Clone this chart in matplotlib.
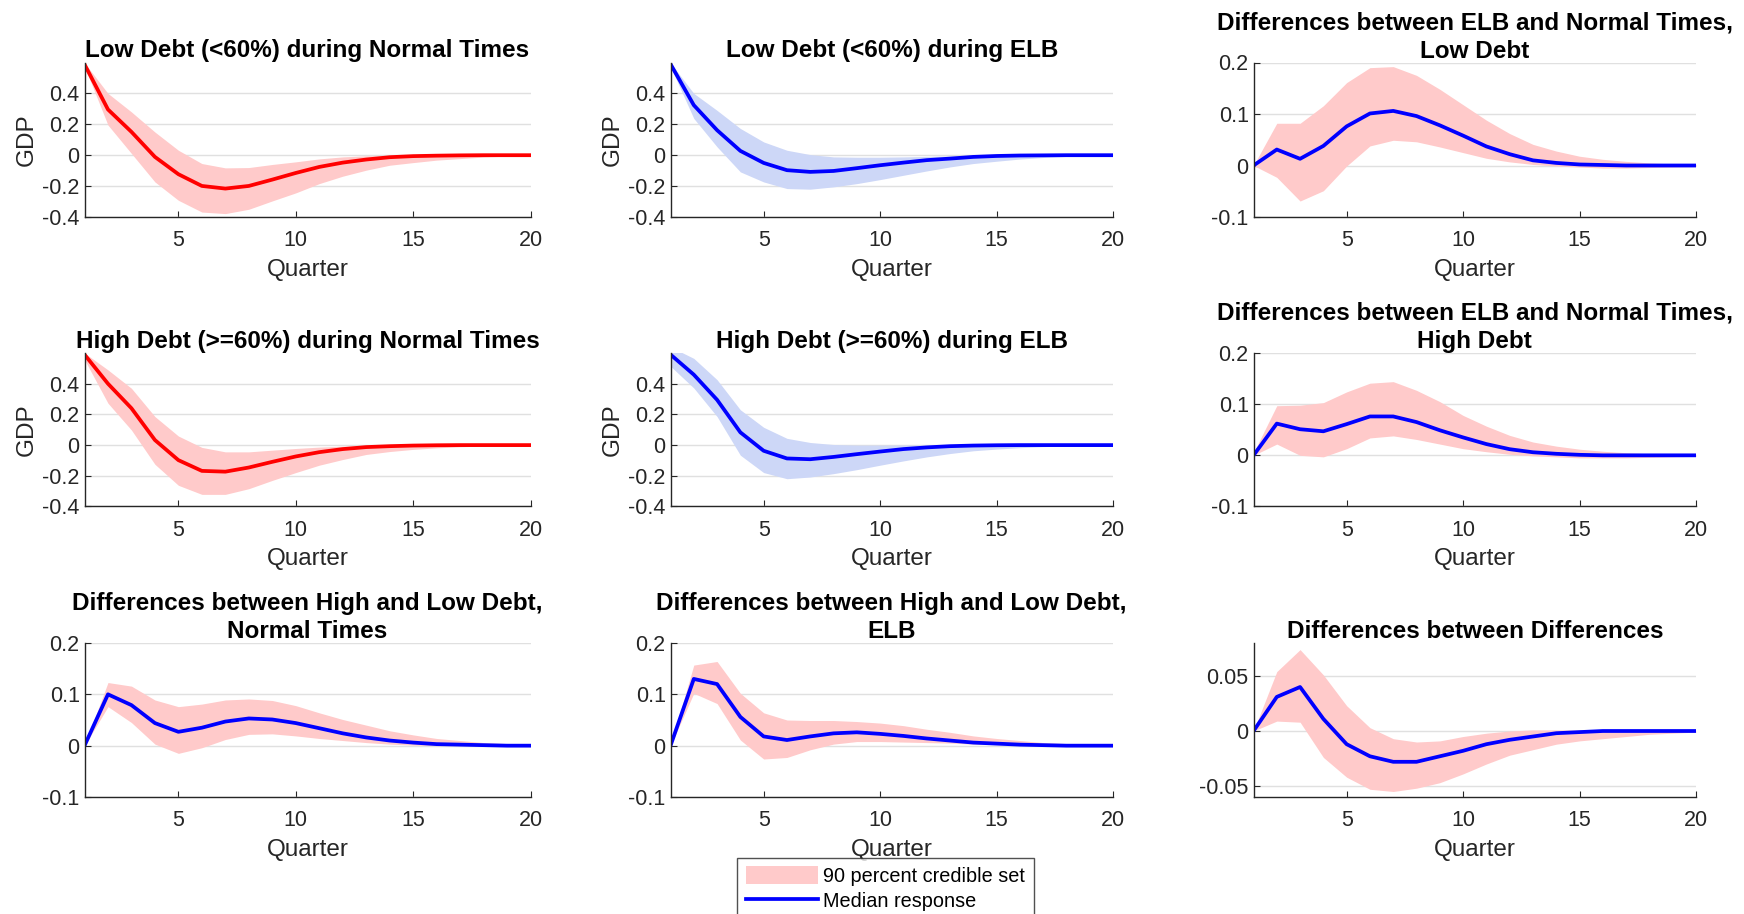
import matplotlib
matplotlib.use("Agg")
import matplotlib.pyplot as plt
from matplotlib.patches import Patch
from matplotlib.lines import Line2D

plt.rcParams['font.family'] = ['Liberation Sans', 'DejaVu Sans']

quarters = list(range(1, 21))

# ---- Panel data (median, upper 90%, lower 90%) ----
low_normal_med = [0.588, 0.296, 0.151, -0.011, -0.123, -0.199, -0.216, -0.199, -0.158, -0.115, -0.076, -0.048, -0.028, -0.013, -0.006, -0.003, -0.001, 0, 0, 0]
low_normal_up = [0.598, 0.40, 0.28, 0.15, 0.032, -0.054, -0.082, -0.08, -0.06, -0.043, -0.024, -0.011, -0.004, -0.002, 0.0, 0, 0, 0, 0, 0]
low_normal_lo = [0.575, 0.195, 0.011, -0.173, -0.292, -0.368, -0.378, -0.35, -0.296, -0.244, -0.184, -0.136, -0.097, -0.065, -0.048, -0.032, -0.022, -0.012, -0.006, -0.003]

low_elb_med = [0.59, 0.324, 0.162, 0.028, -0.05, -0.097, -0.108, -0.102, -0.084, -0.065, -0.048, -0.032, -0.022, -0.011, -0.005, -0.002, -0.001, 0, 0, 0]
low_elb_up = [0.598, 0.40, 0.29, 0.173, 0.086, 0.032, 0.004, -0.011, -0.013, -0.013, -0.011, -0.008, -0.005, -0.003, -0.001, 0, 0, 0, 0, 0]
low_elb_lo = [0.573, 0.238, 0.054, -0.108, -0.173, -0.216, -0.22, -0.205, -0.184, -0.158, -0.13, -0.102, -0.076, -0.054, -0.039, -0.025, -0.015, -0.008, -0.004, -0.002]

diff_low_med = [0, 0.031, 0.013, 0.038, 0.076, 0.101, 0.106, 0.096, 0.078, 0.058, 0.037, 0.022, 0.010, 0.005, 0.002, 0.001, 0, 0, 0, 0]
diff_low_up = [0, 0.082, 0.082, 0.116, 0.161, 0.19, 0.192, 0.175, 0.148, 0.118, 0.088, 0.062, 0.041, 0.028, 0.018, 0.012, 0.008, 0.005, 0.003, 0.002]
diff_low_lo = [0, -0.023, -0.069, -0.049, -0.001, 0.038, 0.049, 0.046, 0.036, 0.025, 0.014, 0.007, 0.002, -0.001, -0.003, -0.005, -0.005, -0.004, -0.003, -0.002]

high_normal_med = [0.59, 0.40, 0.24, 0.033, -0.098, -0.168, -0.173, -0.146, -0.109, -0.074, -0.046, -0.026, -0.013, -0.007, -0.003, -0.001, 0, 0, 0, 0]
high_normal_up = [0.60, 0.49, 0.37, 0.186, 0.059, -0.015, -0.044, -0.044, -0.033, -0.022, -0.013, -0.007, -0.003, -0.001, 0, 0, 0, 0, 0, 0]
high_normal_lo = [0.557, 0.273, 0.098, -0.125, -0.262, -0.321, -0.321, -0.284, -0.23, -0.179, -0.131, -0.094, -0.061, -0.042, -0.028, -0.018, -0.011, -0.006, -0.003, -0.001]

high_elb_med = [0.59, 0.459, 0.295, 0.083, -0.037, -0.087, -0.092, -0.077, -0.059, -0.042, -0.026, -0.015, -0.007, -0.003, -0.001, 0, 0, 0, 0, 0]
high_elb_up = [0.64, 0.565, 0.426, 0.23, 0.116, 0.044, 0.017, 0.004, 0.0, 0.0, 0, 0, 0, 0, 0, 0, 0, 0, 0, 0]
high_elb_lo = [0.514, 0.372, 0.186, -0.066, -0.179, -0.219, -0.208, -0.186, -0.16, -0.131, -0.103, -0.077, -0.055, -0.037, -0.026, -0.017, -0.01, -0.006, -0.003, -0.001]

diff_high_med = [0, 0.062, 0.051, 0.047, 0.061, 0.076, 0.076, 0.065, 0.049, 0.035, 0.022, 0.012, 0.006, 0.003, 0.001, 0, 0, 0, 0, 0]
diff_high_up = [0.005, 0.097, 0.098, 0.103, 0.124, 0.141, 0.144, 0.127, 0.105, 0.078, 0.057, 0.039, 0.026, 0.018, 0.012, 0.008, 0.005, 0.003, 0.002, 0.001]
diff_high_lo = [0, 0.022, 0, -0.003, 0.013, 0.034, 0.038, 0.031, 0.022, 0.013, 0.007, 0.002, -0.001, -0.003, -0.005, -0.005, -0.005, -0.004, -0.003, -0.002]

diff_normal_med = [0, 0.10, 0.079, 0.044, 0.027, 0.035, 0.047, 0.053, 0.051, 0.044, 0.034, 0.024, 0.016, 0.010, 0.006, 0.003, 0.002, 0.001, 0, 0]
diff_normal_up = [0, 0.123, 0.116, 0.089, 0.076, 0.081, 0.089, 0.091, 0.088, 0.078, 0.064, 0.051, 0.04, 0.029, 0.021, 0.014, 0.01, 0.006, 0.004, 0.002]
diff_normal_lo = [0, 0.076, 0.045, 0.003, -0.015, -0.004, 0.012, 0.022, 0.023, 0.019, 0.014, 0.01, 0.006, 0.003, 0.001, 0, 0, 0, 0, 0]

diff_elb_med = [0, 0.13, 0.12, 0.056, 0.018, 0.011, 0.018, 0.024, 0.026, 0.023, 0.019, 0.014, 0.01, 0.006, 0.004, 0.002, 0.001, 0, 0, 0]
diff_elb_up = [0, 0.157, 0.164, 0.102, 0.064, 0.05, 0.049, 0.049, 0.047, 0.044, 0.039, 0.032, 0.026, 0.019, 0.014, 0.01, 0.006, 0.004, 0.002, 0.001]
diff_elb_lo = [0, 0.102, 0.082, 0.011, -0.026, -0.023, -0.008, 0.003, 0.008, 0.008, 0.007, 0.006, 0.005, 0.003, 0.002, 0.001, 0, 0, 0, 0]

diff_diff_med = [0, 0.031, 0.040, 0.011, -0.012, -0.023, -0.028, -0.028, -0.023, -0.018, -0.012, -0.008, -0.005, -0.002, -0.001, 0, 0, 0, 0, 0]
diff_diff_up = [0, 0.054, 0.074, 0.051, 0.023, 0.003, -0.007, -0.010, -0.009, -0.005, -0.002, 0, 0.001, 0.001, 0.001, 0.001, 0, 0, 0, 0]
diff_diff_lo = [0, 0.009, 0.008, -0.024, -0.042, -0.053, -0.055, -0.052, -0.047, -0.039, -0.03, -0.022, -0.017, -0.012, -0.009, -0.007, -0.005, -0.003, -0.002, -0.001]

titles = [
    "Low Debt (<60%) during Normal Times",
    "Low Debt (<60%) during ELB",
    "Differences between ELB and Normal Times,\nLow Debt",
    "High Debt (>=60%) during Normal Times",
    "High Debt (>=60%) during ELB",
    "Differences between ELB and Normal Times,\nHigh Debt",
    "Differences between High and Low Debt,\nNormal Times",
    "Differences between High and Low Debt,\nELB",
    "Differences between Differences",
]

x_ticks = [5, 10, 15, 20]
gdp_ticks = [-0.4, -0.2, 0, 0.2, 0.4]
gdp_ticklabels = ["-0.4", "-0.2", "0", "0.2", "0.4"]
diff_ticks = [-0.1, 0, 0.1, 0.2]
diff_ticklabels = ["-0.1", "0", "0.1", "0.2"]
dd_ticks = [-0.05, 0, 0.05]
dd_ticklabels = ["-0.05", "0", "0.05"]

legend_labels = ["90 percent credible set", "Median response"]

RED = (1, 0, 0)
BLUE = (0, 0, 1)
RED_BAND = "#FFCACA"
BLUE_BAND = "#CDD7F7"

panels = [
    (low_normal_med, low_normal_up, low_normal_lo, RED, RED_BAND, "gdp", True),
    (low_elb_med, low_elb_up, low_elb_lo, BLUE, BLUE_BAND, "gdp", True),
    (diff_low_med, diff_low_up, diff_low_lo, BLUE, RED_BAND, "diff", False),
    (high_normal_med, high_normal_up, high_normal_lo, RED, RED_BAND, "gdp", True),
    (high_elb_med, high_elb_up, high_elb_lo, BLUE, BLUE_BAND, "gdp", True),
    (diff_high_med, diff_high_up, diff_high_lo, BLUE, RED_BAND, "diff", False),
    (diff_normal_med, diff_normal_up, diff_normal_lo, BLUE, RED_BAND, "diff", False),
    (diff_elb_med, diff_elb_up, diff_elb_lo, BLUE, RED_BAND, "diff", False),
    (diff_diff_med, diff_diff_up, diff_diff_lo, BLUE, RED_BAND, "dd", False),
]

W, H = 1744, 914
fig = plt.figure(figsize=(W / 100, H / 100), dpi=100)

col_lr = [(84.5, 530.5), (670.5, 1113), (1253.5, 1696)]
row_tb = [(62.5, 217), (353, 506.5), (643, 797)]

DARK = (0.15, 0.15, 0.15)

for i, (med, up, lo, lc, bc, kind, ylab) in enumerate(panels):
    r, c = divmod(i, 3)
    l, rr = col_lr[c]
    t, b = row_tb[r]
    ax = fig.add_axes([l / W, 1 - b / H, (rr - l) / W, (b - t) / H])
    ax.fill_between(quarters, lo, up, color=bc, linewidth=0)
    ax.plot(quarters, med, color=lc, linewidth=2.7)
    ax.set_xlim(1, 20)
    ax.set_xticks(x_ticks)
    if kind == "gdp":
        ax.set_ylim(-0.4, 0.6)
        ax.set_yticks(gdp_ticks)
        ax.set_yticklabels(gdp_ticklabels)
    elif kind == "diff":
        ax.set_ylim(-0.1, 0.2)
        ax.set_yticks(diff_ticks)
        ax.set_yticklabels(diff_ticklabels)
    else:
        ax.set_ylim(-0.06, 0.08)
        ax.set_yticks(dd_ticks)
        ax.set_yticklabels(dd_ticklabels)
    ax.grid(axis="y", color="#E0E0E0", linewidth=1.0)
    ax.set_axisbelow(True)
    for s in ["top", "right"]:
        ax.spines[s].set_visible(False)
    for s in ["left", "bottom"]:
        ax.spines[s].set_color(DARK)
        ax.spines[s].set_linewidth(1.0)
    ax.tick_params(axis="both", direction="in", length=4, width=0.8, color=DARK,
                   labelcolor=DARK, labelsize=15.5)
    ax.tick_params(axis="x", pad=9.5)
    ax.tick_params(axis="y", pad=3.5)
    ax.set_xlabel("Quarter", fontsize=17.5, color=DARK, labelpad=5.5)
    if ylab:
        ax.set_ylabel("GDP", fontsize=17.5, color=DARK, labelpad=3)
    ax.set_title(titles[i], fontsize=17.5, fontweight="bold", pad=1.5, linespacing=1.3)

handles = [Patch(facecolor=RED_BAND, edgecolor="none"),
           Line2D([0], [0], color=BLUE, linewidth=2.7)]
leg = fig.legend(handles, legend_labels, loc="upper left",
                 bbox_to_anchor=(737 / W, 1 - 857.5 / H), fontsize=14.3,
                 frameon=True, fancybox=False, edgecolor=DARK,
                 handlelength=3.65, handleheight=0.95, handletextpad=0.25,
                 borderpad=0.45, labelspacing=0.3, borderaxespad=0)
leg.get_frame().set_linewidth(1.0)

fig.savefig("out.png", dpi=100)
